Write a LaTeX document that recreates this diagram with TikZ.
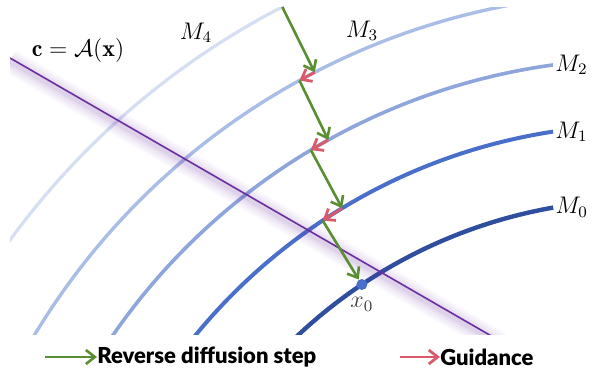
\documentclass[tikz,border=0pt]{standalone}
\usepackage{fontspec}
\newfontfamily\legendfont{Lato}[BoldFont={Lato Black}]
\usetikzlibrary{positioning, arrows.meta, calc}

\definecolor{mzero}{HTML}{2F4E9E}
\definecolor{mone}{HTML}{4A6FCB}
\definecolor{mtwo}{HTML}{8EA6DC}
\definecolor{mthree}{HTML}{AABDE6}
\definecolor{mfour}{HTML}{D5DEF2}
\definecolor{condpurple}{HTML}{6B2FA0}
\definecolor{stepgreen}{HTML}{5A8E32}
\definecolor{guidered}{HTML}{D95A6A}

\begin{document}
\begin{tikzpicture}[
    x=0.5pt, y=0.5pt,
    manifold/.style={line width=#1},
    diffstep/.style={-{Straight Barb[length=4.5pt, width=7pt]}, line width=1.3pt, stepgreen},
    guide/.style={-{Straight Barb[length=4.5pt, width=7pt]}, line width=1.4pt, guidered},
    mlabel/.style={font=\large, inner sep=1pt},
    legend/.style={font=\legendfont\bfseries\fontsize{11}{13}\selectfont, inner sep=0pt, anchor=west}
]
\useasboundingbox (0,0) rectangle (595,369);

% centre of the manifold arcs
\coordinate (o) at (640,-331);

% manifolds and condition line, clipped to the plot area
\begin{scope}
    \clip (10,34) rectangle (595,361);
    \draw[manifold=1.6pt, mfour]  ($(o)+(150:780)$) arc[start angle=150, end angle=96.4, radius=780];
    \draw[manifold=1.7pt, mthree] ($(o)+(150:707)$) arc[start angle=150, end angle=97.1, radius=707];
    \draw[manifold=1.8pt, mtwo]   ($(o)+(150:641)$) arc[start angle=150, end angle=97.8, radius=641];
    \draw[manifold=2.0pt, mone]   ($(o)+(150:575)$) arc[start angle=150, end angle=98.7, radius=575];
    \draw[manifold=2.2pt, mzero]  ($(o)+(150:500)$) arc[start angle=150, end angle=100, radius=500];

    % condition line with soft glow
    \coordinate (cl) at (10,311);
    \coordinate (cr) at (500,28);
    \foreach \w/\op in {12/0.03, 10/0.03, 8/0.04, 6/0.04, 4/0.05, 2.5/0.06}
        \draw[line width=\w pt, condpurple, opacity=\op, transform canvas={yshift=-1.5pt}] (cl) -- (cr);
    \draw[line width=0.8pt, condpurple] (cl) -- (cr);
\end{scope}

% labels
\node[mlabel] (lm4) at (196,336) {$M_4$};
\node[mlabel] (lm3) at (362,338) {$M_3$};
\node[mlabel, anchor=west] (lm2) at ($(o)+(97.8:641)$) {$M_2$};
\node[mlabel, anchor=west] (lm1) at ($(o)+(98.7:575)$) {$M_1$};
\node[mlabel, anchor=west] (lm0) at ($(o)+(100:500)$) {$M_0$};
\node[mlabel] (cond) at (78,318) {$\mathbf{c} = \mathcal{A}(\mathbf{x})$};

% sampling trajectory
\coordinate (s)  at ($(o)+(117.3:780)$);
\coordinate (g1) at ($(o)+(117.4:707)$);
\coordinate (r1) at ($(o)+(118.8:707)$);
\coordinate (g2) at ($(o)+(119.1:641)$);
\coordinate (r2) at ($(o)+(120.9:641)$);
\coordinate (g3) at ($(o)+(121.2:575)$);
\coordinate (r3) at ($(o)+(123.5:575)$);
\node[circle, fill=mone, inner sep=0pt, minimum size=5.5pt] (x0) at ($(o)+(123.8:500)$) {};
\node[below=0pt of x0, text=black!75, font=\large] (x0lab) {$x_0$};

\draw[diffstep] (s) -- (g1);
\draw[guide] (g1) -- (r1);
\draw[diffstep] (r1) -- (g2);
\draw[guide] (g2) -- (r2);
\draw[diffstep] (r2) -- (g3);
\draw[guide] (g3) -- (r3);
\draw[diffstep] (r3) -- (x0);

% legend
\node[legend] (lrev) at (97,12) {Reverse diffusion step};
\coordinate (lrevtail) at (45,12);
\draw[diffstep] (lrevtail) -- (lrev.west);
\node[legend] (lguide) at (440,12) {Guidance};
\coordinate (lguidetail) at (400,12);
\draw[guide] (lguidetail) -- (lguide.west);

\end{tikzpicture}
\end{document}
